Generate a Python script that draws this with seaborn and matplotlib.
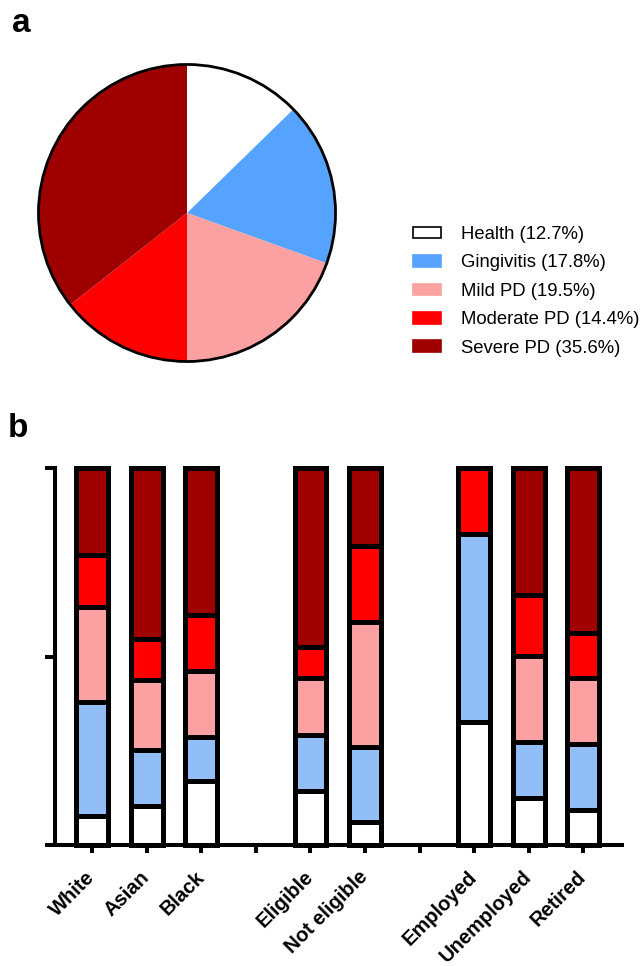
import matplotlib
matplotlib.use("Agg")
import matplotlib.pyplot as plt
from matplotlib.patches import Patch, Circle
import numpy as np
import pandas as pd
import seaborn as sns

# ---------------- data ----------------
pie_labels = ["Health (12.7%)", "Gingivitis (17.8%)", "Mild PD (19.5%)",
              "Moderate PD (14.4%)", "Severe PD (35.6%)"]
pie_values = [12.7, 17.8, 19.5, 14.4, 35.6]

groups = ["White", "Asian", "Black", "Eligible", "Not eligible",
          "Employed", "Unemployed", "Retired"]
health     = [0.077, 0.104, 0.170, 0.143, 0.061, 0.326, 0.125, 0.093]
gingivitis = [0.303, 0.148, 0.117, 0.150, 0.199, 0.499, 0.147, 0.176]
mild       = [0.250, 0.185, 0.175, 0.151, 0.332, 0.000, 0.229, 0.175]
moderate   = [0.139, 0.109, 0.148, 0.082, 0.201, 0.175, 0.163, 0.119]
severe     = [0.231, 0.454, 0.390, 0.474, 0.207, 0.000, 0.336, 0.437]

order = ["White", "Asian", "Black", "gap1", "Eligible", "Not eligible",
         "gap2", "Employed", "Unemployed", "Retired"]
tick_labels = ["White", "Asian", "Black", "", "Eligible", "Not eligible",
               "", "Employed", "Unemployed", "Retired"]

pie_colors = ["#FFFFFF", "#56A2FF", "#FBA1A1", "#FF0000", "#9E0000"]
bar_colors = ["#FFFFFF", "#92BEF8", "#FCA1A1", "#FF0000", "#A00000"]

# ---------------- style ----------------
sns.set_style("ticks")
plt.rcParams["font.family"] = ["Liberation Sans", "DejaVu Sans"]
plt.rcParams["text.color"] = "black"
plt.rcParams["axes.edgecolor"] = "black"
plt.rcParams["xtick.color"] = "black"
plt.rcParams["ytick.color"] = "black"
plt.rcParams["xtick.labelcolor"] = "black"

fig = plt.figure(figsize=(6.44, 9.66), dpi=100)

# ---------------- panel a : pie ----------------
axp = fig.add_axes([37 / 644, 1 - 363 / 966, 300 / 644, 300 / 966])
axp.pie(pie_values, colors=pie_colors, startangle=90, counterclock=False,
        wedgeprops=dict(linewidth=0, edgecolor="none"))
axp.add_patch(Circle((0, 0), 1.0, fill=False, edgecolor="black", linewidth=2.0))
axp.set_xlim(-1.01, 1.01)
axp.set_ylim(-1.01, 1.01)
axp.set_aspect("equal")
axp.axis("off")

handles = [Patch(facecolor=c, edgecolor=("black" if i == 0 else c), linewidth=1.2)
           for i, c in enumerate(pie_colors)]
fig.legend(handles, pie_labels, loc="upper left",
           bbox_to_anchor=(413 / 644, 1 - 226 / 966), frameon=False,
           fontsize=13.3, handlelength=1.5, handleheight=0.6,
           handletextpad=1.1, labelspacing=0.62, borderpad=0, borderaxespad=0,
           labelcolor="black")

fig.text(12 / 644, 1 - 32 / 966, "a", fontsize=24, fontweight="bold", va="baseline")
fig.text(8 / 644, 1 - 437 / 966, "b", fontsize=24, fontweight="bold", va="baseline")

# ---------------- panel b : stacked bars ----------------
df = pd.DataFrame({"group": groups, "health": health, "gingivitis": gingivitis,
                   "mild": mild, "moderate": moderate, "severe": severe})
layers = ["health", "gingivitis", "mild", "moderate", "severe"]
cum = df[layers].cumsum(axis=1)

axb = fig.add_axes([55 / 644, 1 - 845 / 966, (622 - 55) / 644, (845 - 468) / 966])
for layer, col in reversed(list(zip(layers, bar_colors))):
    sns.barplot(x=df["group"], y=cum[layer], order=order, color=col,
                saturation=1, width=0.58, edgecolor="black", linewidth=3.6,
                errorbar=None, ax=axb)
for p in axb.patches:
    p.set_clip_on(False)

axb.set_xlim(-0.68, 9.71)
axb.set_ylim(0, 1)
axb.set_yticks([0, 0.5, 1])
axb.set_yticklabels([])
axb.set_xticks(range(len(order)))
axb.set_xticklabels(tick_labels, rotation=45, ha="right", va="center",
                    rotation_mode="anchor", fontsize=14.5, fontweight="bold",
                    color="black")
axb.set_xlabel("")
axb.set_ylabel("")
sns.despine(ax=axb)
for s in ["left", "bottom"]:
    axb.spines[s].set_linewidth(2.9)
    axb.spines[s].set_color("black")
axb.tick_params(axis="y", length=7, width=2.9, direction="out", colors="black")
axb.tick_params(axis="x", length=6, width=2.9, direction="out", pad=15, colors="black")

fig.savefig("out.png", dpi=100)
